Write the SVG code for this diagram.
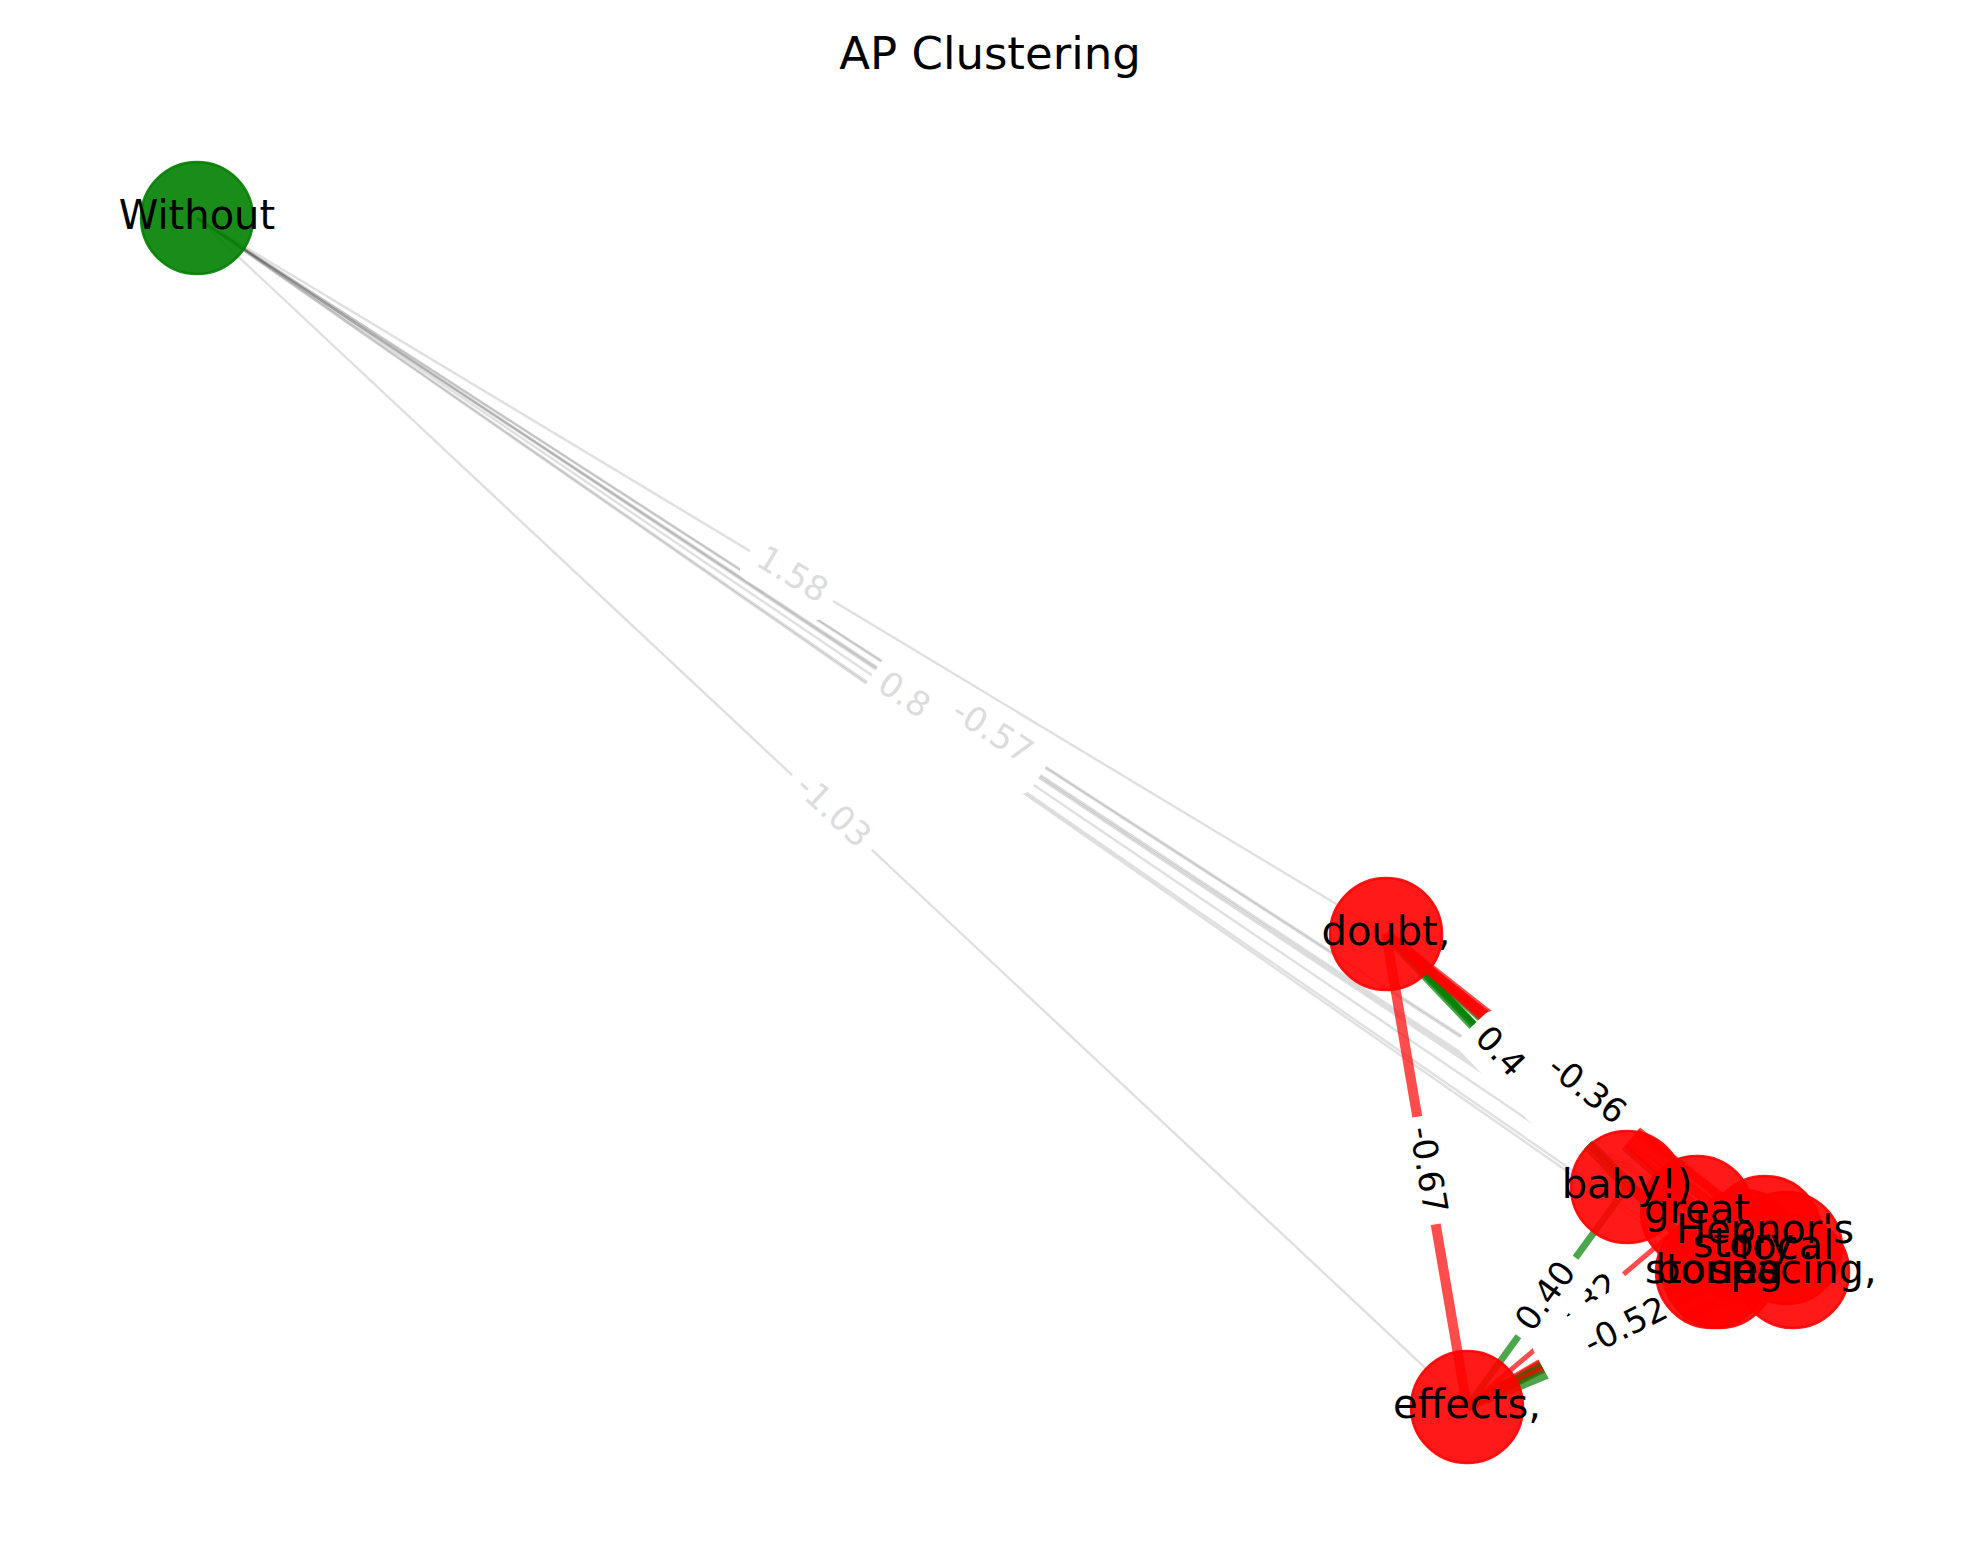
<svg xmlns="http://www.w3.org/2000/svg" xmlns:xlink="http://www.w3.org/1999/xlink" width="1980" height="1563" viewBox="0 0 1980 1563">
<style>
.g{stroke:#000;stroke-opacity:0.12;stroke-width:2.5;fill:none}
.gr{stroke:#008000;stroke-opacity:0.7;fill:none}
.rd{stroke:#ff0000;stroke-opacity:0.7;fill:none}
.nr{fill:#ff0000;fill-opacity:0.9;stroke:#ff0000;stroke-opacity:0.9;stroke-width:2.5}
.ng{fill:#008000;fill-opacity:0.9;stroke:#008000;stroke-opacity:0.9;stroke-width:2.5}
.nl{font-family:'DejaVu Sans',sans-serif;font-size:40px;fill:#000;text-anchor:middle}
.el{font-family:'DejaVu Sans',sans-serif;font-size:34px;fill:#000;text-anchor:middle}
.elg{font-family:'DejaVu Sans',sans-serif;font-size:34px;fill:#dcdcdc;text-anchor:middle}
.box{fill:#fff;stroke:#fff;stroke-width:1}
.title{font-family:'DejaVu Sans',sans-serif;font-size:45px;fill:#000;text-anchor:middle}
</style>
<defs>
<rect id="b5" class="box" x="-54" y="-26.5" width="108" height="53" rx="10"/>
<rect id="b4" class="box" x="-48" y="-26.5" width="96" height="53" rx="10"/>
</defs>
<rect width="1980" height="1563" fill="#fff"/>
<text class="title" x="990" y="69">AP Clustering</text>
<g id="connectors">
<g id="gray-edges">
<line class="g" x1="197" y1="218" x2="1386" y2="934"/>
<line class="g" x1="197" y1="218" x2="1467" y2="1407"/>
<line class="g" x1="197" y1="218" x2="1627" y2="1187"/>
<line class="g" x1="197" y1="218" x2="1697" y2="1212"/>
<line class="g" x1="197" y1="218" x2="1765" y2="1232"/>
<line class="g" x1="197" y1="218" x2="1743" y2="1246"/>
<line class="g" x1="197" y1="218" x2="1786" y2="1248"/>
<line class="g" x1="197" y1="218" x2="1712" y2="1272"/>
<line class="g" x1="197" y1="218" x2="1719" y2="1272"/>
<line class="g" x1="197" y1="218" x2="1793" y2="1272"/>
</g>
<g id="colored-edges">
<line class="rd" stroke-width="10" x1="1386" y1="934" x2="1467" y2="1407"/>
<line class="gr" stroke-width="10" x1="1386" y1="934" x2="1627" y2="1187"/>
<line class="gr" stroke-width="7" x1="1386" y1="934" x2="1712" y2="1272"/>
<line class="gr" stroke-width="7" x1="1386" y1="934" x2="1697" y2="1212"/>
<line class="gr" stroke-width="5" x1="1386" y1="934" x2="1719" y2="1272"/>
<line class="rd" stroke-width="7" x1="1386" y1="934" x2="1743" y2="1246"/>
<line class="rd" stroke-width="10" x1="1386" y1="934" x2="1765" y2="1232"/>
<line class="rd" stroke-width="6" x1="1386" y1="934" x2="1786" y2="1248"/>
<line class="rd" stroke-width="10" x1="1386" y1="934" x2="1793" y2="1272"/>
<line class="gr" stroke-width="7" x1="1467" y1="1407" x2="1627" y2="1187"/>
<line class="rd" stroke-width="5" x1="1467" y1="1407" x2="1697" y2="1212"/>
<line class="rd" stroke-width="8" x1="1467" y1="1407" x2="1743" y2="1246"/>
<line class="rd" stroke-width="10" x1="1467" y1="1407" x2="1765" y2="1232"/>
<line class="rd" stroke-width="7" x1="1467" y1="1407" x2="1712" y2="1272"/>
<line class="gr" stroke-width="9" x1="1467" y1="1407" x2="1719" y2="1272"/>
<line class="rd" stroke-width="7.8" x1="1467" y1="1407" x2="1786" y2="1248"/>
<line class="gr" stroke-width="10" x1="1467" y1="1407" x2="1793" y2="1272"/>
<line class="gr" stroke-width="5" x1="1627" y1="1187" x2="1697" y2="1212"/>
<line class="rd" stroke-width="5" x1="1627" y1="1187" x2="1765" y2="1232"/>
<line class="rd" stroke-width="4" x1="1627" y1="1187" x2="1743" y2="1246"/>
<line class="gr" stroke-width="4" x1="1627" y1="1187" x2="1786" y2="1248"/>
<line class="rd" stroke-width="5" x1="1627" y1="1187" x2="1712" y2="1272"/>
<line class="rd" stroke-width="5" x1="1627" y1="1187" x2="1793" y2="1272"/>
<line class="gr" stroke-width="4" x1="1697" y1="1212" x2="1765" y2="1232"/>
<line class="rd" stroke-width="4" x1="1697" y1="1212" x2="1793" y2="1272"/>
<line class="rd" stroke-width="4" x1="1765" y1="1232" x2="1786" y2="1248"/>
<line class="gr" stroke-width="4" x1="1712" y1="1272" x2="1793" y2="1272"/>
</g>
</g>
<g id="edge-labels">
<g transform="translate(1582,1309.5) rotate(-40.29)"><use href="#b5"/><text class="el" y="9.4">-0.32</text></g>
<use href="#b5" transform="translate(947,715) rotate(33.53)"/>
<use href="#b5" transform="translate(981,725) rotate(32.89)"/>
<use href="#b5" transform="translate(970,732) rotate(33.62)"/>
<use href="#b5" transform="translate(954.5,745) rotate(34.83)"/>
<use href="#b5" transform="translate(958,745) rotate(34.70)"/>
<use href="#b5" transform="translate(995,745) rotate(33.44)"/>
<use href="#b5" transform="translate(1541.5,1073) rotate(41.80)"/>
<use href="#b5" transform="translate(1575.5,1083) rotate(38.18)"/>
<use href="#b5" transform="translate(1564.5,1090) rotate(41.16)"/>
<use href="#b5" transform="translate(1549,1103) rotate(46.04)"/>
<use href="#b5" transform="translate(1552.5,1103) rotate(45.43)"/>
<use href="#b5" transform="translate(1589.5,1103) rotate(39.71)"/>
<use href="#b5" transform="translate(1616,1319.5) rotate(-30.42)"/>
<use href="#b5" transform="translate(1605,1326.5) rotate(-30.26)"/>
<use href="#b5" transform="translate(1589.5,1339.5) rotate(-28.85)"/>
<use href="#b5" transform="translate(1593,1339.5) rotate(-28.18)"/>
<use href="#b5" transform="translate(1630,1339.5) rotate(-22.49)"/>
<g transform="translate(791.5,576) rotate(31.05)"><use href="#b4"/><text class="elg" y="9.4">1.58</text></g>
<g transform="translate(832,812.5) rotate(43.11)"><use href="#b5"/><text class="elg" y="9.4">-1.03</text></g>
<g transform="translate(912,702.5) rotate(34.12)"><use href="#b4"/><text class="elg" x="-37.8" y="9.4" style="text-anchor:start">0.8</text></g>
<g transform="translate(991.5,733) rotate(32.95)"><use href="#b5"/><text class="elg" y="9.4">-0.57</text></g>
<g transform="translate(1506.5,1060.5) rotate(46.39)"><use href="#b4"/><text class="el" x="-37.8" y="9.4" style="text-anchor:start">0.4</text></g>
<g transform="translate(1586,1091) rotate(38.13)"><use href="#b5"/><text class="el" y="9.4">-0.36</text></g>
<g transform="translate(1426.5,1170.5) rotate(80.28)"><use href="#b5"/><text class="el" y="9.4">-0.67</text></g>
<g transform="translate(1547,1297) rotate(-53.97)"><use href="#b4"/><text class="el" y="9.4">0.40</text></g>
<g transform="translate(1626.5,1327.5) rotate(-26.49)"><use href="#b5"/><text class="el" y="9.4">-0.52</text></g>
</g>
<g id="nodes">
<g id="n-without"><circle class="ng" cx="197" cy="218" r="56"/></g>
<g id="n-doubt"><circle class="nr" cx="1386" cy="934" r="56"/></g>
<g id="n-effects"><circle class="nr" cx="1467" cy="1407" r="56"/></g>
<g id="n-baby"><circle class="nr" cx="1627" cy="1187" r="56"/></g>
<g id="n-great"><circle class="nr" cx="1697" cy="1212" r="56"/></g>
<g id="n-hepnors"><circle class="nr" cx="1765" cy="1232" r="56"/></g>
<g id="n-story"><circle class="nr" cx="1743" cy="1246" r="56"/></g>
<g id="n-focal"><circle class="nr" cx="1786" cy="1248" r="56"/></g>
<g id="n-stories"><circle class="nr" cx="1712" cy="1272" r="56"/></g>
<g id="n-boring"><circle class="nr" cx="1719" cy="1272" r="56"/></g>
<g id="n-spacing"><circle class="nr" cx="1793" cy="1272" r="56"/></g>
</g>
<g id="node-labels">
<text class="nl" x="197" y="229">Without</text>
<text class="nl" x="1386" y="945">doubt,</text>
<text class="nl" x="1467" y="1418">effects,</text>
<text class="nl" x="1627" y="1198">baby!)</text>
<text class="nl" x="1697" y="1223">great</text>
<text class="nl" x="1765" y="1243">Hepnor's</text>
<text class="nl" x="1743" y="1257">story</text>
<text class="nl" x="1786" y="1259">focal</text>
<text class="nl" x="1712" y="1283">stories</text>
<text class="nl" x="1719" y="1283">boring</text>
<text class="nl" x="1793" y="1283">spacing,</text>
</g>
</svg>
